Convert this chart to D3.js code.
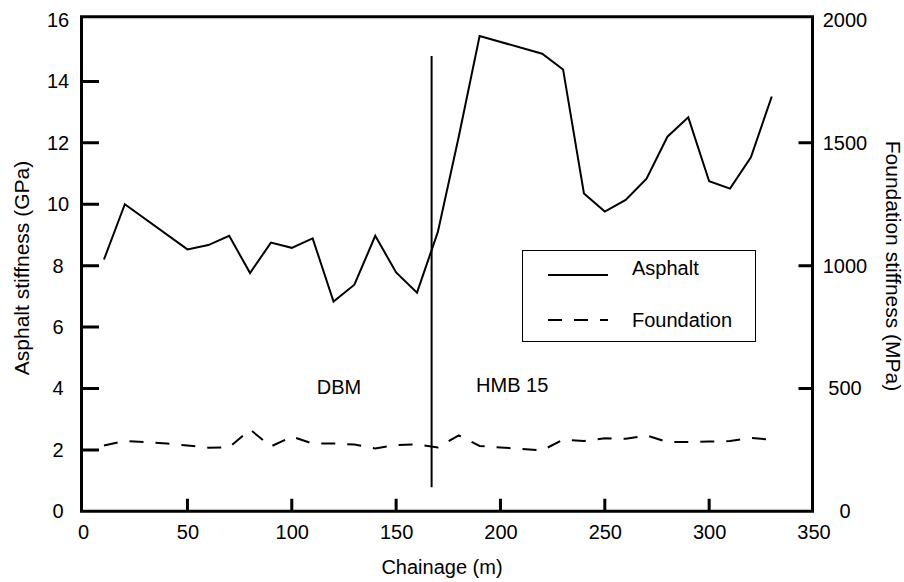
<!DOCTYPE html>
<html>
<head>
<meta charset="utf-8">
<script src="https://cdn.jsdelivr.net/npm/d3@7"></script>
<style>
  body { margin: 0; background: #fff; }
  svg { display: block; font-family: "Liberation Sans", Arial, sans-serif; }
</style>
</head>
<body>
<script>
// Asphalt stiffness (GPa) against chainage (m)
const asphaltChainage = [10, 20, 50, 60, 70, 80, 90, 100, 110, 120, 130, 140, 150, 160, 170, 180, 190, 220, 230, 240, 250, 260, 270, 280, 290, 300, 310, 320, 330];
const asphaltGPa = [8.2, 10.0, 8.53, 8.67, 8.97, 7.76, 8.75, 8.58, 8.89, 6.83, 7.38, 8.97, 7.78, 7.12, 9.1, 12.2, 15.48, 14.9, 14.39, 10.35, 9.76, 10.14, 10.83, 12.2, 12.83, 10.75, 10.51, 11.53, 13.51];

// Foundation stiffness (MPa) against chainage (m)
const foundationChainage = [10, 20, 30, 40, 50, 60, 70, 80, 90, 100, 110, 120, 130, 140, 150, 160, 170, 180, 190, 200, 210, 220, 230, 240, 250, 260, 270, 280, 290, 300, 310, 320, 330];
const foundationMPa = [268, 286, 282, 276, 268, 259, 260, 333, 264, 304, 276, 276, 272, 256, 270, 272, 260, 309, 266, 260, 254, 248, 292, 286, 297, 295, 309, 282, 282, 284, 286, 299, 291];

// boundary between the two asphalt materials
const boundaryChainage = 167;
const boundaryGPa = [0.78, 14.83];

const xTicks = [0, 50, 100, 150, 200, 250, 300, 350];
const leftTicks = [0, 2, 4, 6, 8, 10, 12, 14, 16];
const rightTicks = [0, 500, 1000, 1500, 2000];

const width = 904, height = 582;
const frameLeft = 81.5, frameRight = 812.5, frameTop = 16.7, frameBottom = 511.3;

const svg = d3.select("body").append("svg")
  .attr("width", width)
  .attr("height", height);

const x = d3.scaleLinear().domain([0, 350]).range([83.1, 813.5]);
const yL = d3.scaleLinear().domain([0, 16]).range([frameBottom, 20]);
const yR = d3.scaleLinear().domain([0, 2000]).range([frameBottom, 20]);

// frame with inward tick marks
const frame = d3.path();
frame.moveTo(frameLeft, frameTop);
frame.lineTo(frameRight, frameTop);
frame.lineTo(frameRight, frameBottom);
frame.lineTo(frameLeft, frameBottom);
frame.closePath();
xTicks.slice(1, -1).forEach(d => { frame.moveTo(x(d), frameBottom); frame.lineTo(x(d), frameBottom - 12.5); });
leftTicks.slice(1, -1).forEach(d => { frame.moveTo(frameLeft, yL(d)); frame.lineTo(frameLeft + 17.5, yL(d)); });
rightTicks.slice(1, -1).forEach(d => { frame.moveTo(frameRight, yR(d)); frame.lineTo(frameRight - 14, yR(d)); });

svg.append("path")
  .attr("d", frame.toString())
  .attr("fill", "none")
  .attr("stroke", "#000")
  .attr("stroke-width", 3);

function styleAxis(g) {
  g.select(".domain").remove();
  g.selectAll("text").attr("fill", "#000").attr("font-size", 20)
    .attr("font-family", "'Liberation Sans', Arial, sans-serif");
}

svg.append("g")
  .attr("transform", `translate(0,${frameBottom})`)
  .call(d3.axisBottom(x).tickValues(xTicks).tickSize(0).tickPadding(14))
  .call(styleAxis)
  .call(g => g.selectAll("text").attr("dy", "0.71em"));

svg.append("g")
  .attr("transform", `translate(${frameLeft},0)`)
  .call(d3.axisLeft(yL).tickValues(leftTicks).tickSize(0))
  .call(styleAxis)
  .call(g => g.selectAll("text").attr("text-anchor", "middle").attr("x", -23.5));

svg.append("g")
  .attr("transform", `translate(${frameRight},0)`)
  .call(d3.axisRight(yR).tickValues(rightTicks).tickFormat(d3.format("d")).tickSize(0))
  .call(styleAxis)
  .call(g => g.selectAll("text").attr("text-anchor", "middle").attr("x", 32.5));

// series
const asphaltLine = d3.line()
  .x((d, i) => x(asphaltChainage[i]))
  .y(d => yL(d));

const foundationLine = d3.line()
  .x((d, i) => x(foundationChainage[i]))
  .y(d => yR(d));

svg.append("path")
  .datum(asphaltGPa)
  .attr("fill", "none")
  .attr("stroke", "#000")
  .attr("stroke-width", 2)
  .attr("d", asphaltLine);

svg.append("path")
  .datum(foundationMPa)
  .attr("fill", "none")
  .attr("stroke", "#000")
  .attr("stroke-width", 2)
  .attr("stroke-dasharray", "14,12")
  .attr("d", foundationLine);

svg.append("line")
  .attr("x1", x(boundaryChainage)).attr("x2", x(boundaryChainage))
  .attr("y1", yL(boundaryGPa[0])).attr("y2", yL(boundaryGPa[1]))
  .attr("stroke", "#000").attr("stroke-width", 2);

// material labels
svg.append("text")
  .attr("x", x(122.6)).attr("y", yL(3.82))
  .attr("text-anchor", "middle")
  .attr("font-size", 20)
  .text("DBM");

svg.append("text")
  .attr("x", x(188.3)).attr("y", yL(3.9))
  .attr("font-size", 20)
  .text("HMB 15");

// legend
const legend = svg.append("g");
legend.append("rect")
  .attr("x", 522.5).attr("y", 250.5)
  .attr("width", 233).attr("height", 91)
  .attr("fill", "#fff").attr("stroke", "#000").attr("stroke-width", 1);

legend.append("line")
  .attr("x1", 548).attr("x2", 608).attr("y1", 275).attr("y2", 275)
  .attr("stroke", "#000").attr("stroke-width", 2);
legend.append("text")
  .attr("x", 632).attr("y", 274.5)
  .attr("font-size", 20)
  .text("Asphalt");

legend.append("line")
  .attr("x1", 548).attr("x2", 608).attr("y1", 320).attr("y2", 320)
  .attr("stroke", "#000").attr("stroke-width", 2)
  .attr("stroke-dasharray", "14,12");
legend.append("text")
  .attr("x", 632).attr("y", 327)
  .attr("font-size", 20)
  .text("Foundation");

// axis titles
svg.append("text")
  .attr("x", 442).attr("y", 574)
  .attr("text-anchor", "middle")
  .attr("font-size", 20)
  .text("Chainage (m)");

svg.append("text")
  .attr("transform", "translate(28.5,268) rotate(-90)")
  .attr("text-anchor", "middle")
  .attr("font-size", 21)
  .text("Asphalt stiffness (GPa)");

svg.append("text")
  .attr("transform", "translate(885.5,266) rotate(90)")
  .attr("text-anchor", "middle")
  .attr("font-size", 21)
  .text("Foundation stiffness (MPa)");
</script>
</body>
</html>
